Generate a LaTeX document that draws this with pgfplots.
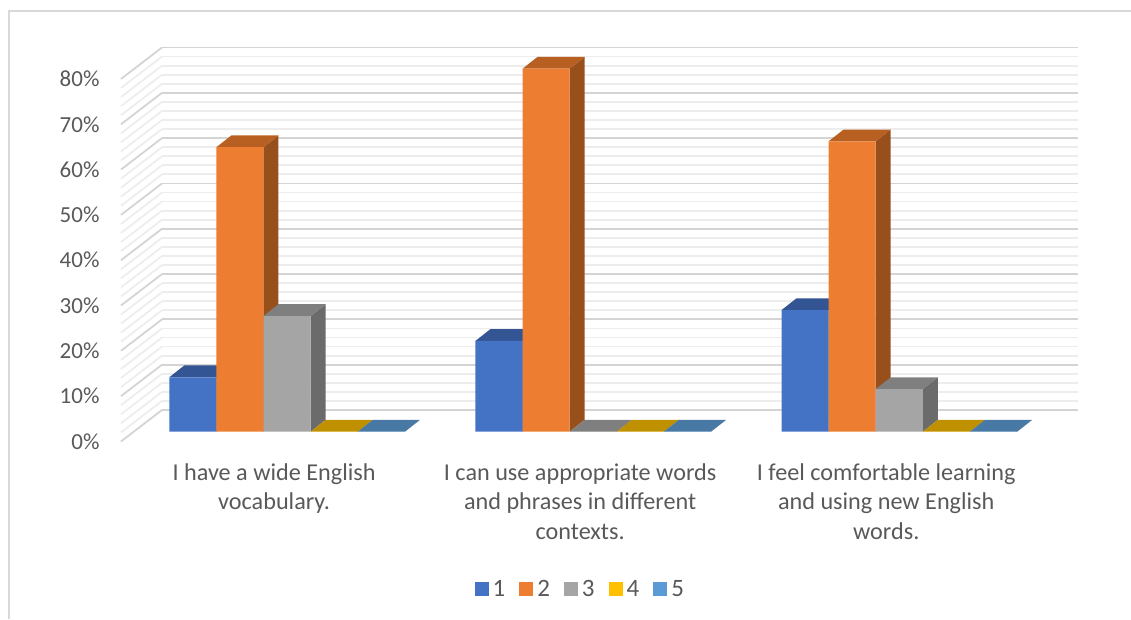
\documentclass[border=0pt]{standalone}
\usepackage{fontspec}
\setmainfont{Carlito}
\usepackage{pgfplots}
\usepackage{pgfplotstable}
\pgfplotsset{compat=1.18}

\definecolor{txt}{HTML}{595959}
\definecolor{gridmaj}{HTML}{D4D4D4}
\definecolor{gridmin}{HTML}{EDEDED}
\definecolor{frame}{HTML}{D9D9D9}
\definecolor{fa}{HTML}{4472C4}\definecolor{ta}{HTML}{335593}\definecolor{sa}{HTML}{2F5597}
\definecolor{fb}{HTML}{ED7D31}\definecolor{tb}{HTML}{B85F22}\definecolor{sb}{HTML}{974F1C}
\definecolor{fc}{HTML}{A5A5A5}\definecolor{tc}{HTML}{7F7F7F}\definecolor{sc}{HTML}{6B6B6B}
\definecolor{fd}{HTML}{FFC000}\definecolor{td}{HTML}{BF9000}\definecolor{sd}{HTML}{A67C00}
\definecolor{fe}{HTML}{5B9BD5}\definecolor{te}{HTML}{4878A4}\definecolor{se}{HTML}{3B6A94}

\pgfplotstableread{
x  a    b    c    d e
0  12.0 62.7 25.5 0 0
1  20.0 80.0 0    0 0
2  26.8 64.0 9.4  0 0
}\answers

% bar width and depth, in axis units (1 unit = 306.1pt across, 4.5375pt per percent)
\def\halfbar{0.0769}
\def\slotstep{0.1539}
\def\depthx{0.049}
\def\depthy{2.6}

% top and side faces of one series, then its front bars
\newcommand{\barseries}[4]{% column, slot, front colour stem, bar shift
  \pgfplotsforeachungrouped \row in {0,1,2}{%
    \pgfplotstablegetelem{\row}{#1}\of\answers
    \let\val\pgfplotsretval
    \pgfmathsetmacro{\xa}{\row+#2*\slotstep-\halfbar}
    \pgfmathsetmacro{\xb}{\row+#2*\slotstep+\halfbar}
    \pgfmathsetmacro{\xc}{\xa+\depthx}
    \pgfmathsetmacro{\xd}{\xb+\depthx}
    \pgfmathsetmacro{\vt}{\val+\depthy}
    \edef\faces{%
      \noexpand\addplot[forget plot,fill=s#3,draw=none] coordinates
        {(\xb,0)(\xd,\depthy)(\xd,\vt)(\xb,\val)} --cycle;
      \noexpand\addplot[forget plot,fill=t#3,draw=none] coordinates
        {(\xa,\val)(\xb,\val)(\xd,\vt)(\xc,\vt)} --cycle;
    }\faces
  }
  \addplot[ybar,bar width=47.1pt,bar shift=#4,fill=f#3,draw=none,
    legend image code/.code={\fill[f#3] (0pt,-7pt) rectangle (14pt,7pt);}]
    table[x=x,y=#1] {\answers};
}

\begin{document}
\begin{tikzpicture}[x=1pt,y=1pt]
\path[use as bounding box] (0,0) rectangle (1131,619);
\draw[frame,line width=1.6pt] (9,0) -- (9,608) -- (1131,608);

% back wall and left wall with the gridlines
\begin{axis}[
    at={(162pt,209pt)},anchor=south west,
    scale only axis,width=916pt,height=362.5pt,
    xmin=0,xmax=916,ymin=0,ymax=80,
    clip=false,
    axis line style={draw=none},
    xtick=\empty,
    ytick={0,10,...,80},
    minor y tick num=4,
    tick style={draw=none},
    ymajorgrids,yminorgrids,
    major grid style={gridmaj,line width=1.8pt},
    minor grid style={gridmin,line width=1.8pt},
    yticklabel={\pgfmathprintnumber[assume math mode=true]{\tick}\%},
    yticklabel style={font=\fontsize{23}{23}\selectfont,text=txt,xshift=-59pt,yshift=-31.5pt},
  ]
  \pgfplotsforeachungrouped \v in {2,4,6,8,12,14,16,18,22,24,26,28,32,34,36,38,42,44,46,48,52,54,56,58,62,64,66,68,72,74,76,78}{%
    \pgfmathsetmacro{\vf}{\v-6.94}
    \edef\wall{\noexpand\addplot[gridmin,line width=1.8pt] coordinates {(-41,\vf)(0,\v)};}\wall
  }
  \pgfplotsforeachungrouped \v in {0,10,...,80}{%
    \pgfmathsetmacro{\vf}{\v-6.94}
    \edef\wall{\noexpand\addplot[gridmaj,line width=1.8pt] coordinates {(-41,\vf)(0,\v)};}\wall
  }
\end{axis}

% bars
\begin{axis}[
    at={(134pt,187.3pt)},anchor=south west,
    scale only axis,width=918.3pt,height=363pt,
    xmin=-0.5,xmax=2.5,ymin=0,ymax=80,
    clip=false,
    axis line style={draw=none},
    tick style={draw=none},
    ytick=\empty,
    xtick={0,1,2},
    xticklabels={I have a wide English\\vocabulary.,
      I can use appropriate words\\and phrases in different\\contexts.,
      I feel comfortable learning\\and using new English\\words.},
    xticklabel style={font=\fontsize{24.2}{29.5}\selectfont,text=txt,align=center,
      xshift=-13pt,anchor=north,yshift=-28pt},
    legend columns=5,
    legend style={at={(0.486,-0.433)},anchor=center,draw=none,fill=none,
      font=\fontsize{25}{25}\selectfont,text=txt,
      /tikz/every odd column/.append style={column sep=2pt},
      /tikz/every even column/.append style={column sep=12pt}},
  ]
  \barseries{a}{-2}{a}{-94.2pt}
  \barseries{b}{-1}{b}{-47.1pt}
  \barseries{c}{0}{c}{0pt}
  \barseries{d}{1}{d}{47.1pt}
  \barseries{e}{2}{e}{94.2pt}
  \legend{1,2,3,4,5}
\end{axis}
\end{tikzpicture}
\end{document}
